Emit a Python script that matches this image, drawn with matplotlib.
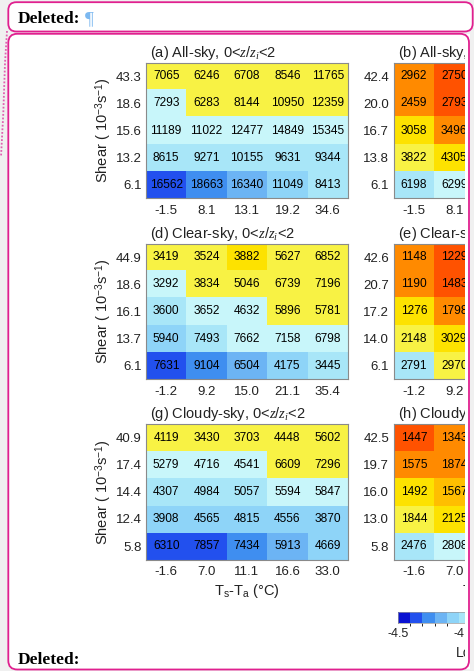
import matplotlib
matplotlib.use("Agg")
import matplotlib.pyplot as plt
import numpy as np
from matplotlib.colors import ListedColormap, BoundaryNorm
from matplotlib.patches import FancyBboxPatch, Rectangle
from matplotlib.lines import Line2D
from matplotlib.transforms import Affine2D
from matplotlib.cm import ScalarMappable

plt.rcParams['font.family'] = ['Liberation Sans', 'DejaVu Sans']
plt.rcParams['mathtext.fontset'] = 'custom'
plt.rcParams['mathtext.rm'] = 'Liberation Sans'
plt.rcParams['mathtext.it'] = 'Liberation Serif:italic'
plt.rcParams['mathtext.bf'] = 'Liberation Sans:bold'

# ---------------- data ----------------
# Ts-Ta bin centres (deg C)
dT_all = ["-1.5", "8.1", "13.1", "19.2", "34.6"]
dT_clear = ["-1.2", "9.2", "15.0", "21.1", "35.4"]
dT_cloudy = ["-1.6", "7.0", "11.1", "16.6", "33.0"]

# shear bin centres (1e-3 s^-1), top row first
shear_a = ["43.3", "18.6", "15.6", "13.2", "6.1"]
shear_d = ["44.9", "18.6", "16.1", "13.7", "6.1"]
shear_g = ["40.9", "17.4", "14.4", "12.4", "5.8"]
shear_b = ["42.4", "20.0", "16.7", "13.8", "6.1"]
shear_e = ["42.6", "20.7", "17.2", "14.0", "6.1"]
shear_h = ["42.5", "19.7", "16.0", "13.0", "5.8"]

# sample counts per bin
counts_a = [[7065, 6246, 6708, 8546, 11765],
            [7293, 6283, 8144, 10950, 12359],
            [11189, 11022, 12477, 14849, 15345],
            [8615, 9271, 10155, 9631, 9344],
            [16562, 18663, 16340, 11049, 8413]]
counts_d = [[3419, 3524, 3882, 5627, 6852],
            [3292, 3834, 5046, 6739, 7196],
            [3600, 3652, 4632, 5896, 5781],
            [5940, 7493, 7662, 7158, 6798],
            [7631, 9104, 6504, 4175, 3445]]
counts_g = [[4119, 3430, 3703, 4448, 5602],
            [5279, 4716, 4541, 6609, 7296],
            [4307, 4984, 5057, 5594, 5847],
            [3908, 4565, 4815, 4556, 3870],
            [6310, 7857, 7434, 5913, 4669]]
counts_b = [[2962, 2750], [2459, 2793], [3058, 3496], [3822, 4305], [6198, 6299]]
counts_e = [[1148, 1229], [1190, 1483], [1276, 1798], [2148, 3029], [2791, 2970]]
counts_h = [[1447, 1343], [1575, 1874], [1492, 1567], [1844, 2125], [2476, 2808]]

# log10 values used for shading
logp_a = [[-3.75, -3.75, -3.75, -3.75, -3.75],
          [-3.85, -3.75, -3.75, -3.75, -3.75],
          [-3.85, -3.85, -3.85, -3.85, -3.85],
          [-3.95, -3.95, -3.95, -3.95, -3.95],
          [-4.35, -4.25, -4.15, -4.05, -3.95]]
logp_d = [[-3.75, -3.75, -3.65, -3.75, -3.75],
          [-3.85, -3.75, -3.75, -3.75, -3.75],
          [-3.95, -3.85, -3.85, -3.75, -3.75],
          [-4.05, -3.95, -3.85, -3.85, -3.85],
          [-4.35, -4.25, -4.15, -4.05, -3.95]]
logp_g = [[-3.75, -3.75, -3.75, -3.75, -3.75],
          [-3.85, -3.85, -3.85, -3.75, -3.75],
          [-3.95, -3.95, -3.95, -3.85, -3.85],
          [-4.05, -4.05, -4.05, -4.05, -4.05],
          [-4.35, -4.35, -4.25, -4.15, -4.05]]
logp_b = [[-3.45, -3.35], [-3.45, -3.35], [-3.65, -3.45], [-3.75, -3.65], [-3.95, -3.85]]
logp_e = [[-3.45, -3.35], [-3.45, -3.35], [-3.65, -3.45], [-3.75, -3.65], [-3.95, -3.75]]
logp_h = [[-3.35, -3.45], [-3.45, -3.45], [-3.65, -3.55], [-3.75, -3.65], [-3.95, -3.85]]

level_colors = ['#0a12d2', '#2250ee', '#3f8ef0', '#6cb4f4', '#8ed4f8', '#a8e6f8',
                '#c8f6fa', '#f8f244', '#fde200', '#ffbe00', '#ff8a00', '#ff5200']
bounds = np.round(-4.5 + 0.1 * np.arange(len(level_colors) + 1), 2)
cmap = ListedColormap(level_colors)
norm = BoundaryNorm(bounds, cmap.N)

# ---------------- figure ----------------
W, H = 474, 671
fig = plt.figure(figsize=(W / 100, H / 100), dpi=100, facecolor='#f0f0f0')
px = Affine2D().scale(1 / 100.0) + fig.dpi_scale_trans
MAG = '#e0208f'


def rect(x0, y0, x1, y1):
    return [x0 / W, 1 - y1 / H, (x1 - x0) / W, (y1 - y0) / H]


def rounded_box(x0, y0, x1, y1, r, face, edge, z):
    p = FancyBboxPatch((x0, H - y1), x1 - x0, y1 - y0,
                       boxstyle=f"round,pad=0,rounding_size={r}",
                       transform=px, facecolor=face, edgecolor=edge,
                       linewidth=1.3, zorder=z)
    fig.patches.append(p)


def ptext(x, y, s, **kw):
    return fig.text(x / W, 1 - y / H, s, **kw)


# page background boxes
rounded_box(8.3, 2.2, 472.7, 31.5, 8, 'white', 'none', -2)
rounded_box(8.3, 33.8, 469.0, 669.5, 9, 'white', 'none', -2)

CELL_W = 40.4
ROW_TOPS = [62.7, 243.7, 424.0]
ROW_H = 135.6


def panel(x0, y0, ncol, counts, logp, xt, yt, title):
    ax = fig.add_axes(rect(x0, y0, x0 + CELL_W * ncol, y0 + ROW_H))
    ax.imshow(np.array(logp), cmap=cmap, norm=norm, aspect='auto',
              interpolation='nearest')
    for i in range(len(counts)):
        for j in range(ncol):
            ax.text(j, i, str(counts[i][j]), ha='center', va='center',
                    fontsize=8.6, color='black')
    ax.set_xticks(range(ncol))
    ax.set_xticklabels(xt[:ncol])
    ax.set_yticks(range(len(yt)))
    ax.set_yticklabels(yt)
    ax.tick_params(axis='both', length=0, labelsize=9.5, colors='#222222')
    ax.tick_params(axis='x', pad=4.6)
    ax.tick_params(axis='y', pad=3.2)
    for s in ax.spines.values():
        s.set_color('#8a8a8a')
        s.set_linewidth(0.8)
    ptext(x0 + 4, y0 - 6, title, fontsize=10.5, ha='left', va='baseline',
          color='#222222')
    return ax


title_z = r"0<$\mathit{z/z_i}$<2"
LX, RX = 146.0, 393.7
panel(LX, ROW_TOPS[0], 5, counts_a, logp_a, dT_all, shear_a, "(a) All-sky, " + title_z)
panel(LX, ROW_TOPS[1], 5, counts_d, logp_d, dT_clear, shear_d, "(d) Clear-sky, " + title_z)
panel(LX, ROW_TOPS[2], 5, counts_g, logp_g, dT_cloudy, shear_g, "(g) Cloudy-sky, " + title_z)
panel(RX, ROW_TOPS[0], 2, counts_b, logp_b, dT_all, shear_b, "(b) All-sky, " + title_z)
panel(RX, ROW_TOPS[1], 2, counts_e, logp_e, dT_clear, shear_e, "(e) Clear-sky, " + title_z)
panel(RX, ROW_TOPS[2], 2, counts_h, logp_h, dT_cloudy, shear_h, "(h) Cloudy-sky, " + title_z)

# axis labels
ylab = r"Shear ( 10$^{-3}$s$^{-1}$)"
for top in ROW_TOPS:
    ptext(104, top + ROW_H / 2, ylab, rotation=90, fontsize=10.5,
          ha='center', va='center', color='#222222')
xlab = r"T$_\mathrm{s}$-T$_\mathrm{a}$ (°C)"
ptext(246.7, 591.5, xlab, fontsize=10.5, ha='center', va='center', color='#222222')
ptext(RX + 101, 591.5, xlab, fontsize=10.5, ha='center', va='center', color='#222222')

# colorbar
SEG = 12.2
cax = fig.add_axes(rect(398, 611.7, 398 + SEG * len(level_colors), 623.3))
cb = fig.colorbar(ScalarMappable(norm=norm, cmap=cmap), cax=cax,
                  orientation='horizontal', ticks=[-4.5, -4.0, -3.5])
cb.ax.set_xticklabels(['-4.5', '-4', '-3.5'])
cb.ax.tick_params(length=0, labelsize=9, pad=3.3, colors='#222222')
cb.outline.set_linewidth(0.5)
cb.outline.set_edgecolor('#9a9a9a')
ptext(455.5, 653, "Log", fontsize=10, ha='left', va='center', color='#222222')

# right margin of the comment box
fig.patches.append(Rectangle((464.5, H - 669), 5.0, 635, transform=px,
                             facecolor='white', edgecolor='none', zorder=5))
fig.patches.append(Rectangle((469.5, 0), 10, H - 33, transform=px,
                             facecolor='#f0f0f0', edgecolor='none', zorder=5))

# balloon outlines
rounded_box(8.3, 2.2, 472.7, 31.5, 8, 'none', MAG, 6)
rounded_box(8.3, 33.8, 469.0, 669.5, 9, 'none', MAG, 6)

# dotted connector line
fig.lines.append(Line2D([7.0, 5.0, 3.3, 1.0], [H - 31, H - 63, H - 113, H - 157],
                        transform=px, color='#e060b0', linewidth=1.3,
                        linestyle=(0, (1, 1)), zorder=6))

# balloon text
ptext(18, 23.3, "Deleted:", family=['Liberation Serif'], fontweight='bold',
      fontsize=12.5, ha='left', va='baseline', color='black', zorder=7)
ptext(84.5, 23.8, "¶", family=['Liberation Serif'], fontsize=14,
      ha='left', va='baseline', color='#7cb8f0', zorder=7)
ptext(18, 664.5, "Deleted:", family=['Liberation Serif'], fontweight='bold',
      fontsize=12.5, ha='left', va='baseline', color='black', zorder=7)

fig.savefig("out.png", dpi=100, facecolor=fig.get_facecolor())
